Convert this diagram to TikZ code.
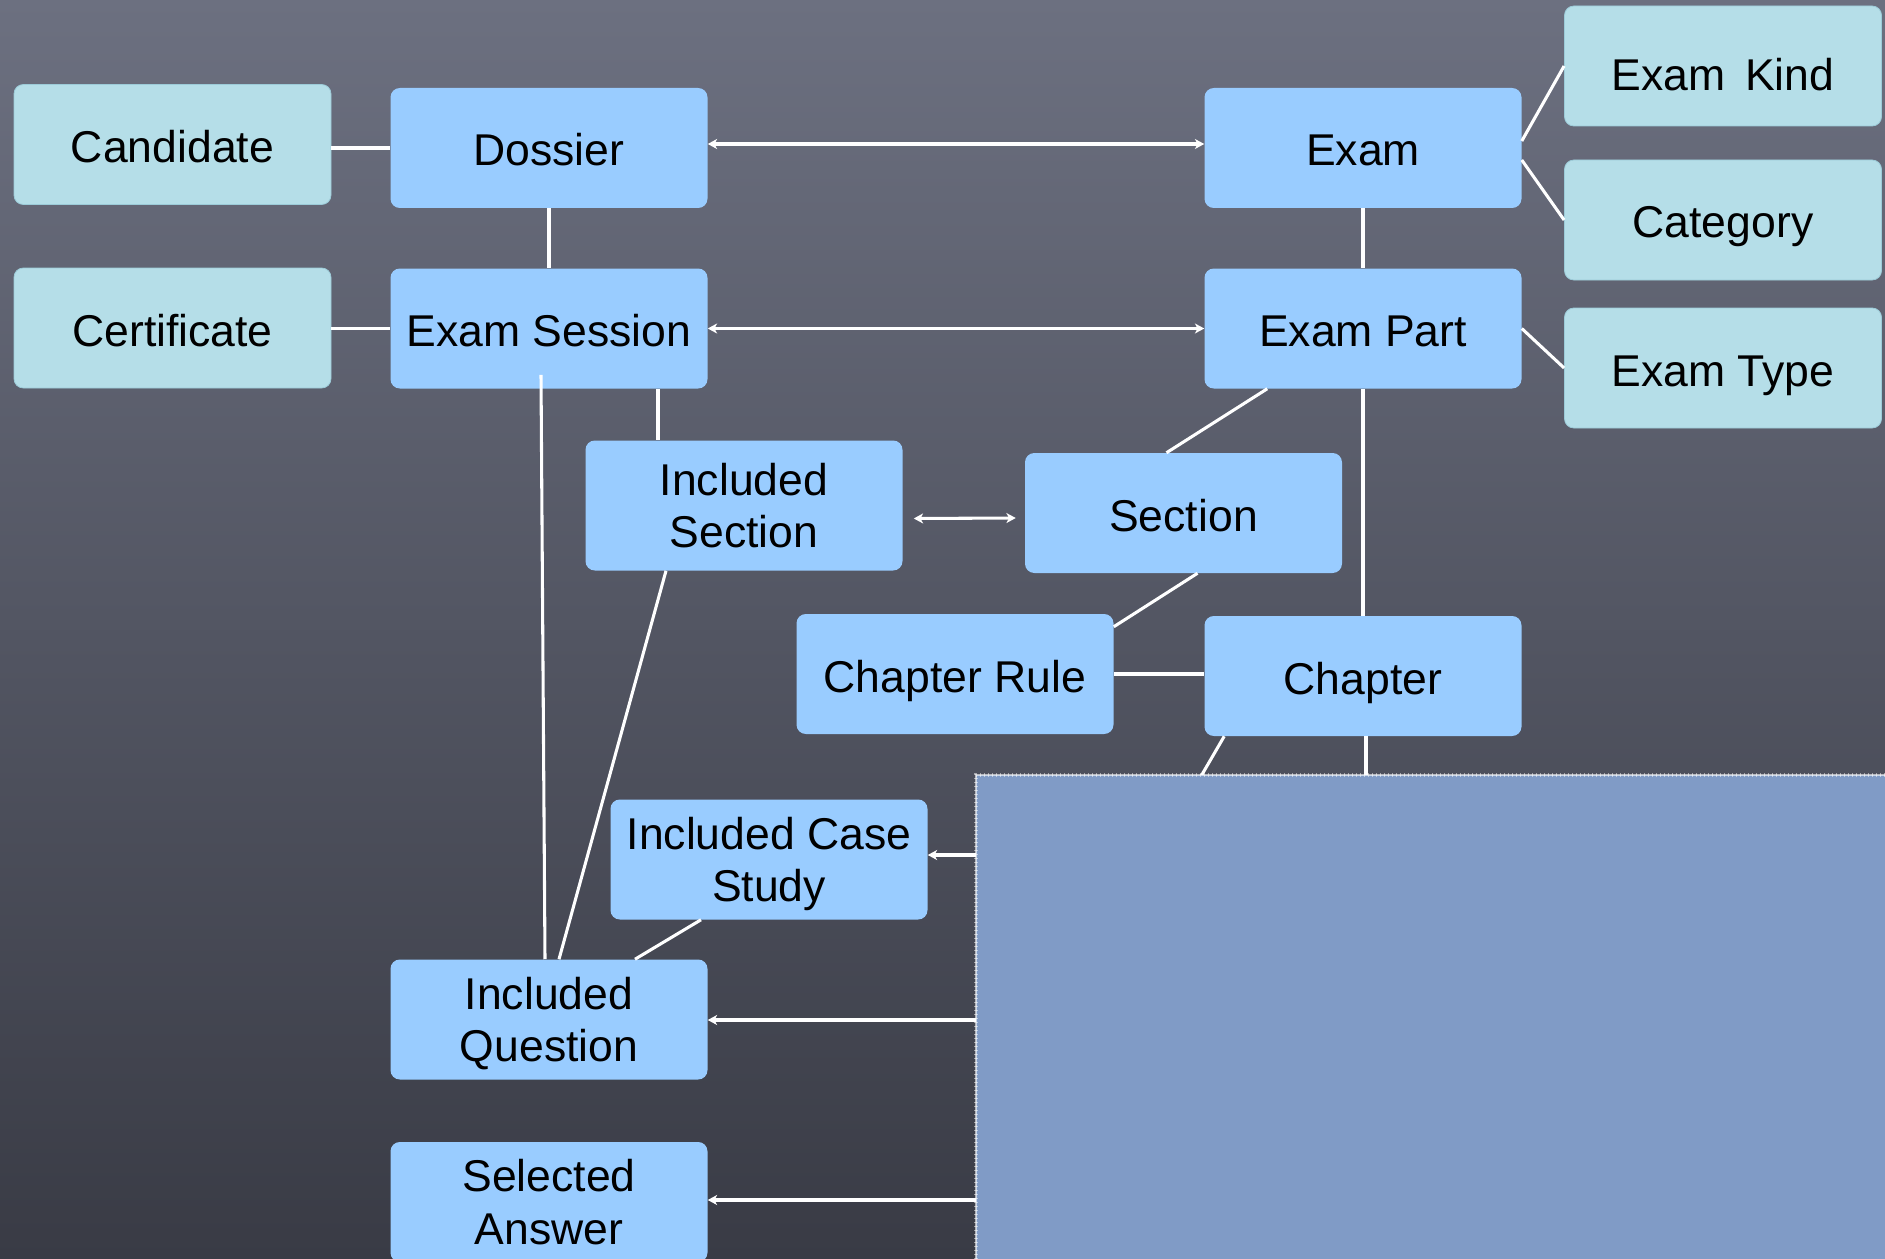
\documentclass[tikz,border=0pt]{standalone}
\usepackage{fontspec}
\setmainfont{Liberation Sans}
\usetikzlibrary{calc,arrows.meta}
\definecolor{boardtop}{HTML}{6C7080}
\definecolor{boardbot}{HTML}{393B45}
\definecolor{entblue}{HTML}{99CCFF}
\definecolor{lookcyan}{HTML}{B5DEE8}
\definecolor{lookedge}{HTML}{9CCBD8}
\definecolor{panelblue}{HTML}{809BC6}
\tikzset{
  ent/.style={fill=entblue, rounded corners=7pt, minimum width=237.75pt, minimum height=90pt,
    inner sep=0pt, align=center, font=\fontsize{33.4}{39.5}\selectfont},
  oneline/.style={text height=27pt, text depth=0pt},
  lookup/.style={ent, fill=lookcyan, draw=lookedge, line width=0.6pt},
  link/.style={draw=white, line width=2.3pt},
  dbl/.style={link, {Stealth[length=7pt,width=7.5pt,inset=2pt]}-{Stealth[length=7pt,width=7.5pt,inset=2pt]}},
  one/.style={link, -{Stealth[length=7pt,width=7.5pt,inset=2pt]}}
}

\begin{document}
\begin{tikzpicture}[x=0.75pt, y=-0.75pt]
			%%%%% BOARD %%%%%
			\useasboundingbox (0,0) rectangle (1885,1259);
			\clip (0,0) rectangle (1885,1259);
			\shade[top color=boardtop, bottom color=boardbot] (0,0) rectangle (1885,1259);
			
			%%%%% BOXES %%%%%
			\node[lookup, oneline] (cand) at (172.5,144.5) {Candidate};
			\node[lookup, oneline] (cert) at (172.5,328) {Certificate};
			\node[ent, oneline] (dos) at (549,148) {Dossier};
			\node[ent, oneline] (sess) at (549,328.5) {Exam Session};
			\node[ent, oneline] (exam) at (1363,148) {Exam};
			\node[ent, oneline] (part) at (1363,328.5) {Exam Part};
			\node[lookup, oneline, text height=37pt] (kind) at (1723,66) {Exam\, Kind};
			\node[lookup, oneline] (cat) at (1723,220) {Category};
			\node[lookup, oneline] (type) at (1723,368) {Exam Type};
			\node[ent, minimum height=97.5pt] (isec) at (744,505.5) {Included\\Section};
			\node[ent, oneline] (sec) at (1183.5,513) {Section};
			\node[ent, oneline] (rule) at (955,674) {Chapter Rule};
			\node[ent, oneline] (chap) at (1363,676) {Chapter};
			\node[ent] (icase) at (769,859.5) {Included Case\\\smash{Study}};
			\node[ent] (ique) at (549,1019.5) {Included\\\smash{Question}};
			\node[ent] (sans) at (549,1202) {Selected\\Answer};
			
			%%%%% LINKS %%%%%
			\draw[link] (cand.east |- dos.west) -- (dos.west);
			\draw[link] (cert.east |- sess.west) -- (sess.west);
			\draw[link] (dos) -- (sess);
			\draw[dbl] ($(dos.east)+(0,-4)$) -- ($(exam.west)+(0,-4)$);
			\draw[dbl] (sess.east) -- (part.west);
			\draw[link] ($(exam.east)+(0,-7)$) -- (kind.west);
			\draw[link] ($(exam.east)+(0,12)$) -- (cat.west);
			\draw[link] (part.east) -- (type.west);
			\draw[link] (exam) -- (part);
			\draw[link] ($(part.south west)+(63,0)$) -- ($(sec.north)+(-17,0)$);
			\draw[link] (part) -- (chap);
			\draw[link] ($(sess.south)+(109,0)$) -- ($(isec.north)+(-86,0)$);
			\draw[dbl] ($(isec.east)+(11,13)$) -- ($(sec.west)+(-9,5)$);
			\draw[link] ($(sec.south)+(14,0)$) -- ($(rule.north east)+(0,13)$);
			\draw[link] (rule.east) -- (rule.east -| chap.west);
			\draw[link] ($(sess.south)+(-8,-14)$) -- ($(ique.north)+(-4,0)$);
			\draw[link] ($(isec.south)+(-78,0)$) -- ($(ique.north)+(10,0)$);
			\draw[link] ($(icase.south)+(-68,0)$) -- ($(ique.north)+(86,0)$);
			
			%% ends hidden under the panel
			\coordinate (c1) at (1193,790);
			\coordinate (c2) at (1366,790);
			\coordinate (p1) at (990,855);
			\coordinate (p2) at (990,1020);
			\coordinate (p3) at (990,1200);
			\draw[link] ($(chap.south west)+(20,0)$) -- (c1);
			\draw[link] ($(chap.south)+(3,0)$) -- (c2);
			\draw[one] (p1) -- (p1 -| icase.east);
			\draw[one] (p2) -- (p2 -| ique.east);
			\draw[one] (p3) -- (p3 -| sans.east);
			
			%%%%% PANEL %%%%%
			\fill[panelblue] (976,775) rectangle (1885,1259);
			\draw[white, opacity=0.6, line width=1.2pt] (976,1259) -- (976,775) -- (1885,775);
			\draw[white, opacity=0.5, line width=2.5pt, dash pattern=on 0.6pt off 2.4pt] (976,1259) -- (976,775) -- (1885,775);
			%%%%% END %%%%%
\end{tikzpicture}
\end{document}
